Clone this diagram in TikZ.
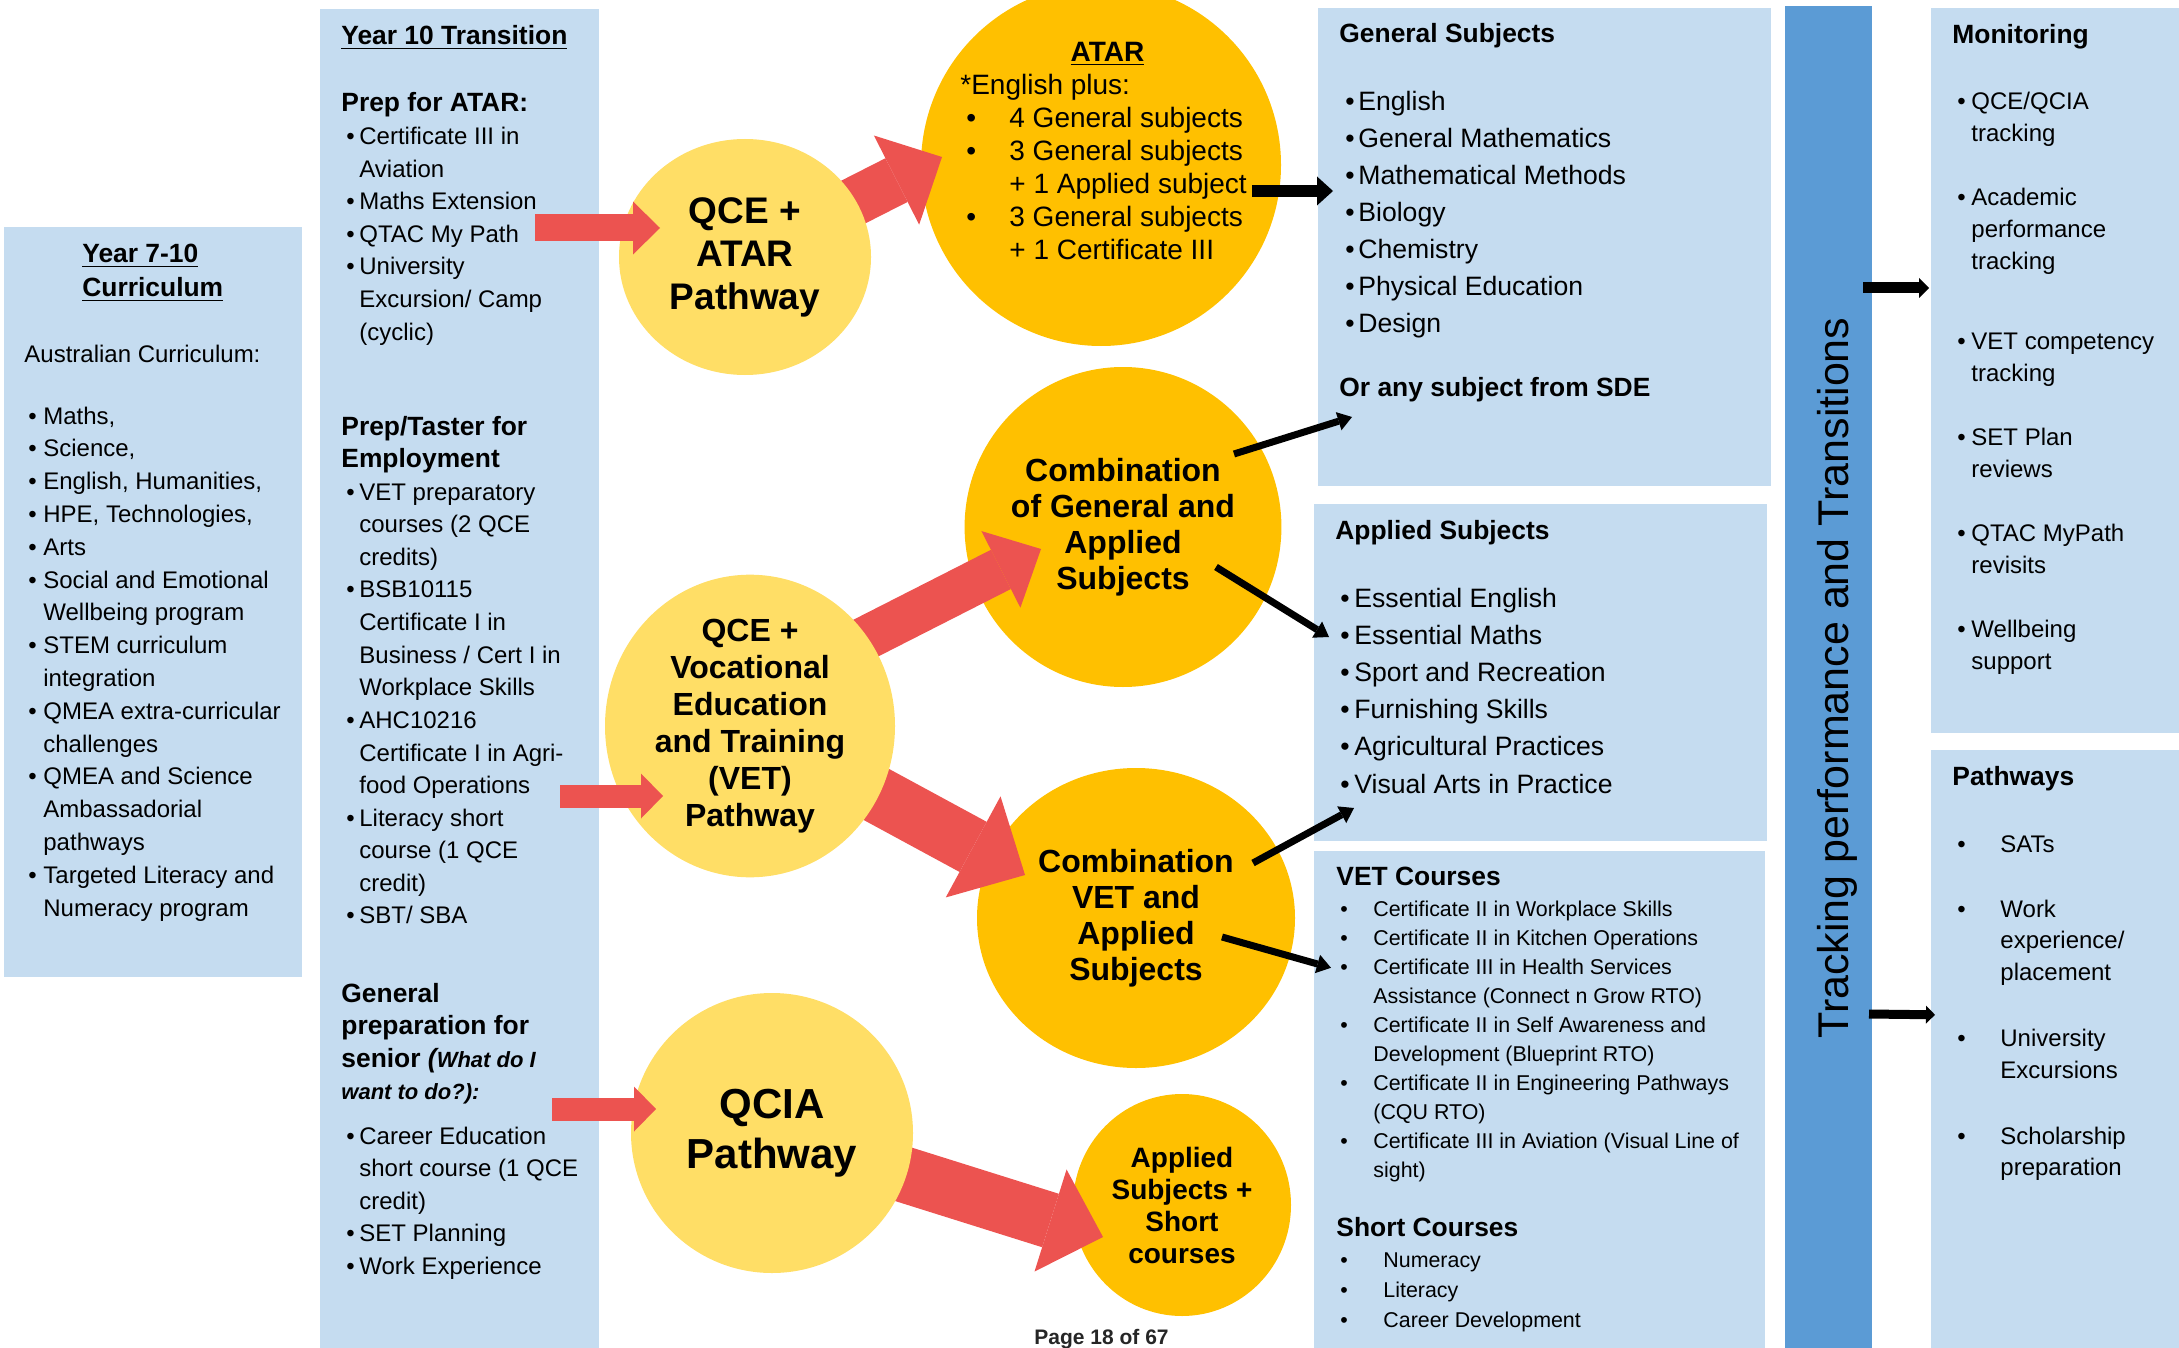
\documentclass[tikz,border=0pt]{standalone}
\usepackage{fontspec}
\setmainfont{Liberation Sans}
\usetikzlibrary{calc,positioning,arrows.meta,shapes.geometric}
\definecolor{boxblue}{RGB}{197,220,240}
\definecolor{barblue}{RGB}{91,155,213}
\definecolor{paleyellow}{RGB}{255,222,102}
\definecolor{goldcirc}{RGB}{255,192,0}
\definecolor{arrowred}{RGB}{236,83,80}
\pgfdeclarelayer{bg}
\pgfdeclarelayer{mid}
\pgfsetlayers{bg,mid,main}
\newcommand{\fs}[2]{\fontsize{#1}{#2}\selectfont}
\newcommand{\bul}[2]{\hspace*{#1pt}\makebox[#2pt][l]{\textbullet}}
\newcommand{\ind}[1]{\hspace*{#1pt}}
\newcommand{\lines}[1]{\begin{tabular}[t]{@{}l@{}}#1\end{tabular}}
\tikzset{
  panel/.style={rectangle, fill=boxblue, anchor=north west, inner sep=0pt},
  listtext/.style={anchor=base west, inner sep=0pt},
  pathcirc/.style={ellipse, fill=paleyellow, inner sep=0pt, align=center},
  goalcirc/.style={ellipse, fill=goldcirc, inner sep=0pt, align=center},
  redarrow/.style n args={3}{draw=arrowred, line width=#1,
    -{Triangle[width=#2, length=#3, line width=0pt]}},
  blkarrow/.style n args={3}{draw=black, line width=#1,
    -{Triangle[width=#2, length=#3, line width=0pt]}},
}
\begin{document}
\begin{tikzpicture}[x=0.5pt, y=-0.5pt]
    \tikzset{
        headfont/.style={font=\fs{13.2}{16.3}\bfseries},
        bodyfont/.style={font=\fs{12}{16.3}},
        thinarrow/.style={blkarrow={3.5pt}{9.5pt}{7pt}},
    }
    \useasboundingbox (0,0) rectangle (2179,1348);

    \begin{pgfonlayer}{bg}
    \node[panel, minimum width=149pt, minimum height=375pt] (curric) at (4,227) {};
    \node[panel, minimum width=139.5pt, minimum height=671pt] (trans) at (320,9) {};
    \node[panel, minimum width=226.5pt, minimum height=239pt] (gensub) at (1318,8) {};
    \node[panel, minimum width=226.5pt, minimum height=168.5pt] (appsub) at (1314,504) {};
    \node[panel, minimum width=225.5pt, minimum height=250pt, below=4.5pt of appsub.south west, anchor=north west] (vetc) {};
    \node[panel, fill=barblue, minimum width=43.5pt, minimum height=672pt] (track) at (1785,6) {};
    \node[panel, minimum width=125pt, minimum height=362.5pt] (monit) at (1931,8) {};
    \node[panel, minimum width=125pt, minimum height=301pt, below=8pt of monit.south west, anchor=north west] (pathw) {};

    \node[goalcirc, minimum width=180pt, minimum height=181pt] (atar) at (1101,165) {};
    \node[goalcirc, minimum width=153pt, minimum height=160pt, font=\fs{16}{18}\bfseries] (gencomb) at (1123,527) {Combination\\of General and\\Applied\\Subjects};
    \node[goalcirc, minimum width=159pt, minimum height=150pt, font=\fs{16}{18}\bfseries] (vetcomb) at (1136,918) {Combination\\VET and\\Applied\\Subjects};
    \node[goalcirc, minimum width=109pt, minimum height=111pt, font=\fs{14}{16}\bfseries] (appshort) at (1182,1205) {Applied\\Subjects +\\Short\\courses};
    \end{pgfonlayer}

    % Year 7-10
    \node[listtext, font=\fs{13.2}{17}\bfseries] (curricttl) at (82,263) {\lines{\underline{Year 7-10}\\\underline{Curriculum}}};
    \node[listtext, bodyfont] (curricintro) at (24,362) {Australian Curriculum:};
    \node[listtext, font=\fs{12}{16.4}] (curriclist) at (24,424) {\lines{%
      \bul{2}{7.5}Maths,\\
      \bul{2}{7.5}Science,\\
      \bul{2}{7.5}English, Humanities,\\
      \bul{2}{7.5}HPE, Technologies,\\
      \bul{2}{7.5}Arts\\
      \bul{2}{7.5}Social and Emotional\\
      \ind{9.5}Wellbeing program\\
      \bul{2}{7.5}STEM curriculum\\
      \ind{9.5}integration\\
      \bul{2}{7.5}QMEA extra-curricular\\
      \ind{9.5}challenges\\
      \bul{2}{7.5}QMEA and Science\\
      \ind{9.5}Ambassadorial\\
      \ind{9.5}pathways\\
      \bul{2}{7.5}Targeted Literacy and\\
      \ind{9.5}Numeracy program}};

    % Year 10
    \node[listtext, headfont] (transttl) at (341,45) {\underline{Year 10 Transition}};
    \node[listtext, bodyfont] (prepatar) at (341,112) {\lines{%
      {\bfseries\fs{13.2}{16.3}Prep for ATAR:}\\
      \bul{2.5}{6.5}Certificate III in\\
      \ind{9}Aviation\\
      \bul{2.5}{6.5}Maths Extension\\
      \bul{2.5}{6.5}QTAC My Path\\
      \bul{2.5}{6.5}University\\
      \ind{9}Excursion/ Camp\\
      \ind{9}(cyclic)}};
    \node[listtext, bodyfont] (prepjob) at (341,435) {\lines{%
      {\bfseries\fs{13.2}{16.3}Prep/Taster for}\\
      {\bfseries\fs{13.2}{16.3}Employment}\\
      \bul{2.5}{6.5}VET preparatory\\
      \ind{9}courses (2 QCE\\
      \ind{9}credits)\\
      \bul{2.5}{6.5}BSB10115\\
      \ind{9}Certificate I in\\
      \ind{9}Business / Cert I in\\
      \ind{9}Workplace Skills\\
      \bul{2.5}{6.5}AHC10216\\
      \ind{9}Certificate I in Agri-\\
      \ind{9}food Operations\\
      \bul{2.5}{6.5}Literacy short\\
      \ind{9}course (1 QCE\\
      \ind{9}credit)\\
      \bul{2.5}{6.5}SBT/ SBA}};
    \node[listtext, headfont] (prepsenior) at (341,1002) {\lines{%
      General\\
      preparation for\\
      senior {\itshape (\fs{11}{16.3}What do I}\\
      {\itshape\fs{11}{14}want to do?):}}};
    \node[listtext, bodyfont] (seniorlist) at (341,1144) {\lines{%
      \bul{2.5}{6.5}Career Education\\
      \ind{9}short course (1 QCE\\
      \ind{9}credit)\\
      \bul{2.5}{6.5}SET Planning\\
      \bul{2.5}{6.5}Work Experience}};

    % ATAR
    \node[listtext, font=\fs{14}{16.5}] (atartxt) at (960,62) {\lines{%
      \makebox[147pt][c]{\bfseries\underline{ATAR}}\\
      {}*English plus:\\
      \bul{3}{21.5}4 General subjects\\
      \bul{3}{21.5}3 General subjects\\
      \ind{24.5}+ 1 Applied subject\\
      \bul{3}{21.5}3 General subjects\\
      \ind{24.5}+ 1 Certificate III}};

    % subject panels
    \node[listtext, headfont] (genttl) at (1339,43) {General Subjects};
    \node[listtext, font=\fs{13.3}{18.5}] (genlist) at (1339,111) {\lines{%
      \bul{3}{6.5}English\\
      \bul{3}{6.5}General Mathematics\\
      \bul{3}{6.5}Mathematical Methods\\
      \bul{3}{6.5}Biology\\
      \bul{3}{6.5}Chemistry\\
      \bul{3}{6.5}Physical Education\\
      \bul{3}{6.5}Design}};
    \node[listtext, headfont] (sde) at (1339,396) {Or any subject from SDE};

    \node[listtext, headfont] (appttl) at (1335,539) {Applied Subjects};
    \node[listtext, font=\fs{13.3}{18.6}] (applist) at (1335,607) {\lines{%
      \bul{2.5}{7}Essential English\\
      \bul{2.5}{7}Essential Maths\\
      \bul{2.5}{7}Sport and Recreation\\
      \bul{2.5}{7}Furnishing Skills\\
      \bul{2.5}{7}Agricultural Practices\\
      \bul{2.5}{7}Visual Arts in Practice}};

    \node[listtext, headfont] (vetttl) at (1336,885) {VET Courses};
    \node[listtext, font=\fs{10.7}{14.5}] (vetlist) at (1336,916) {\lines{%
      \bul{2}{16.5}Certificate II in Workplace Skills\\
      \bul{2}{16.5}Certificate II in Kitchen Operations\\
      \bul{2}{16.5}Certificate III in Health Services\\
      \ind{18.5}Assistance (Connect n Grow RTO)\\
      \bul{2}{16.5}Certificate II in Self Awareness and\\
      \ind{18.5}Development (Blueprint RTO)\\
      \bul{2}{16.5}Certificate II in Engineering Pathways\\
      \ind{18.5}(CQU RTO)\\
      \bul{2}{16.5}Certificate III in Aviation (Visual Line of\\
      \ind{18.5}sight)}};
    \node[listtext, headfont] (shortttl) at (1336,1236) {Short Courses};
    \node[listtext, font=\fs{10.7}{15}] (shortlist) at (1336,1267) {\lines{%
      \bul{2}{21.5}Numeracy\\
      \bul{2}{21.5}Literacy\\
      \bul{2}{21.5}Career Development}};

    \node[rotate=90, anchor=base, inner sep=0pt, font=\fs{21.5}{24}] (tracktxt) at (1848,678) {Tracking performance and Transitions};

    \node[listtext, headfont] (monitttl) at (1952,44) {Monitoring};
    \node[listtext, font=\fs{12}{16}] (monitlist) at (1952,110) {\lines{%
      \bul{2.5}{7}QCE/QCIA\\
      \ind{9.5}tracking\\[16pt]
      \bul{2.5}{7}Academic\\
      \ind{9.5}performance\\
      \ind{9.5}tracking\\[24pt]
      \bul{2.5}{7}VET competency\\
      \ind{9.5}tracking\\[16pt]
      \bul{2.5}{7}SET Plan\\
      \ind{9.5}reviews\\[16pt]
      \bul{2.5}{7}QTAC MyPath\\
      \ind{9.5}revisits\\[16pt]
      \bul{2.5}{7}Wellbeing\\
      \ind{9.5}support}};

    \node[listtext, headfont] (pathttl) at (1952,785) {Pathways};
    \node[listtext, font=\fs{12}{15.7}] (pathlist) at (1952,852) {\lines{%
      \bul{2.5}{21.5}SATs\\[17pt]
      \bul{2.5}{21.5}Work\\
      \ind{24}experience/\\
      \ind{24}placement\\[17.5pt]
      \bul{2.5}{21.5}University\\
      \ind{24}Excursions\\[17.5pt]
      \bul{2.5}{21.5}Scholarship\\
      \ind{24}preparation}};

    \node[anchor=base west, inner sep=0pt, font=\fs{10.5}{12}\bfseries, text=black!85] (pagenum) at (1034,1344) {Page 18 of 67};

    % pathway circles
    \node[pathcirc, minimum width=126pt, minimum height=118pt, font=\fs{18.5}{21.5}\bfseries] (qceatar) at (745,257) {QCE +\\ATAR\\Pathway};
    \node[pathcirc, minimum width=145pt, minimum height=146pt, font=\fs{16}{18.5}\bfseries] (vetpath) at (750,726) {QCE +\\Vocational\\Education\\and Training\\(VET)\\Pathway};
    \node[pathcirc, minimum width=141pt, minimum height=140pt, font=\fs{21}{25}\bfseries] (qcia) at (772,1133) {QCIA\\Pathway};

    \coordinate (atartip) at (942,157);
    \coordinate (gentip) at (1041,549);
    \coordinate (vettip) at (1025,875);
    \coordinate (shorttip) at (1103,1237);
    \begin{pgfonlayer}{mid}
    \draw[redarrow={24.5pt}{50pt}{25.5pt}] (qceatar.center) -- (atartip);
    \draw[redarrow={22pt}{43pt}{22.5pt}] ([shift={(0,-29)}]vetpath.center) -- (gentip);
    \draw[redarrow={28.5pt}{57.5pt}{29.5pt}] (vetpath.center) -- (vettip);
    \draw[redarrow={28pt}{53.5pt}{27.5pt}] (qcia.center) -- (shorttip);
    \end{pgfonlayer}

    \coordinate (atarstart) at (535,228);
    \coordinate (jobstart) at (560,796);
    \coordinate (seniorstart) at (552,1109);
    \draw[redarrow={13.5pt}{26.5pt}{13.5pt}] (atarstart) -- ([shift={(-85,-29)}]qceatar.center);
    \draw[redarrow={11.5pt}{22.5pt}{11pt}] (jobstart) -- ([shift={(-87,70)}]vetpath.center);
    \draw[redarrow={11.5pt}{22.5pt}{11pt}] (seniorstart) -- ([shift={(-116,-24)}]qcia.center);

    \draw[blkarrow={6pt}{14.5pt}{8pt}] ([shift={(151,26)}]atar.center) -- ([shift={(15,183)}]gensub.north west);
    \draw[thinarrow] ([shift={(111,-73)}]gencomb.center) -- ([shift={(34,409)}]gensub.north west);
    \draw[thinarrow] ([shift={(93,40)}]gencomb.center) -- ([shift={(15,133)}]appsub.north west);
    \draw[thinarrow] ([shift={(117,-55)}]vetcomb.center) -- ([shift={(40,304)}]appsub.north west);
    \draw[thinarrow] ([shift={(86,19)}]vetcomb.center) -- ([shift={(17,117)}]vetc.north west);
    \draw[blkarrow={5.5pt}{10pt}{5pt}] ([shift={(78,282)}]track.north west) -- ([shift={(-2,280)}]monit.north west);
    \draw[blkarrow={4.5pt}{9pt}{4.5pt}] ([shift={(84,1008)}]track.north west) -- ([shift={(4,265)}]pathw.north west);

\end{tikzpicture}
\end{document}
